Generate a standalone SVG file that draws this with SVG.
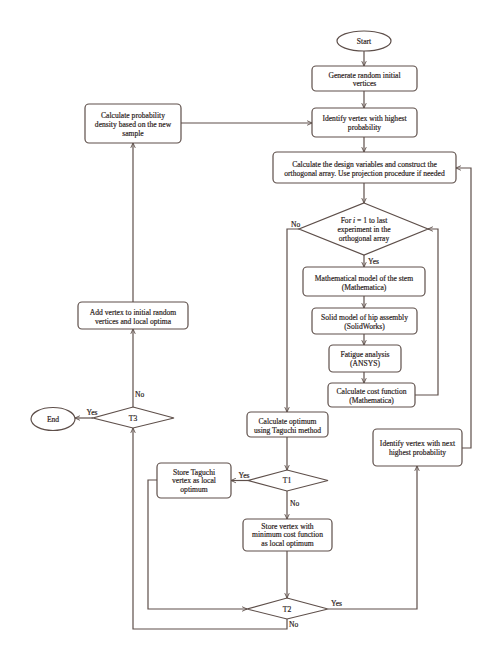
<svg xmlns="http://www.w3.org/2000/svg" width="502" height="660" viewBox="0 0 502 660">
<defs>
<style>
.n{fill:#fff;stroke:#5e4f4a;stroke-width:1.2}
.c{fill:none;stroke:#5e4f4a;stroke-width:1.2}
text{font-family:"Liberation Serif","Times New Roman",serif;font-size:7.6px;fill:#2b2220;stroke:#2b2220;stroke-width:0.18;text-anchor:middle}
.l{text-anchor:start}
</style>
<marker id="a" viewBox="0 0 8 8" refX="7.5" refY="4" markerWidth="6" markerHeight="6" orient="auto" markerUnits="userSpaceOnUse">
<path d="M1,1 L7.5,4 L1,7" fill="none" stroke="#5e4f4a" stroke-width="1.2"/>
</marker>
</defs>
<rect width="502" height="660" fill="#fff"/>
<g id="connectors" marker-end="url(#a)">
<path class="c" d="M364,51V66"/>
<path class="c" d="M364,91V108"/>
<path class="c" d="M364,137V152"/>
<path class="c" d="M364,183V203"/>
<path class="c" d="M364,255V267"/>
<path class="c" d="M364,296V308"/>
<path class="c" d="M364,334V345"/>
<path class="c" d="M364,372V383"/>
<path class="c" d="M415,395H438V229H428"/>
<path class="c" d="M299,229H287V412"/>
<path class="c" d="M287,437V470"/>
<path class="c" d="M248,480.5H231"/>
<path class="c" d="M287,491V519"/>
<path class="c" d="M287,551V598"/>
<path class="c" d="M157,480H148V609H247"/>
<path class="c" d="M328,609H417V466"/>
<path class="c" d="M462,448H471V168H456"/>
<path class="c" d="M287,619V629H133V428"/>
<path class="c" d="M133,407V329"/>
<path class="c" d="M93,418H75"/>
<path class="c" d="M133,302V143"/>
<path class="c" d="M181,123H312"/>
</g>
<g id="labels">
<text class="l" x="291" y="226.5">No</text>
<text class="l" x="368" y="263.5">Yes</text>
<text x="244" y="477.5">Yes</text>
<text class="l" x="290" y="505.5">No</text>
<text class="l" x="331" y="606">Yes</text>
<text class="l" x="289" y="626.5">No</text>
<text class="l" x="135" y="396.5">No</text>
<text x="92" y="414.5">Yes</text>
</g>
<g id="start"><ellipse class="n" cx="364" cy="41" rx="27" ry="10"/><text x="364" y="43.5">Start</text></g>
<g id="generate"><rect class="n" x="312" y="66" width="105" height="25" rx="4"/><text x="364.5" y="77.5">Generate random initial</text><text x="364.5" y="86">vertices</text></g>
<g id="identify"><rect class="n" x="312" y="108" width="105" height="29" rx="4"/><text x="364.5" y="120.5">Identify vertex with highest</text><text x="364.5" y="130">probability</text></g>
<g id="calcprob"><rect class="n" x="85" y="104" width="96" height="39" rx="4"/><text x="133" y="117.5">Calculate probability</text><text x="133" y="126.5">density based on the new</text><text x="133" y="135.5">sample</text></g>
<g id="calcdesign"><rect class="n" x="273" y="152" width="183" height="31" rx="4"/><text x="364.5" y="166.5">Calculate the design variables and construct the</text><text x="364.5" y="175.5">orthogonal array. Use projection procedure if needed</text></g>
<g id="fori"><path class="n" d="M364,203L428,229L364,255L299,229Z"/><text x="364" y="222.5">For <tspan font-style="italic">i</tspan> = 1 to last</text><text x="364" y="231.5">experiment in the</text><text x="364" y="240.5">orthogonal array</text></g>
<g id="mathmodel"><rect class="n" x="303" y="267" width="122" height="29" rx="4"/><text x="364" y="280.5">Mathematical model of the stem</text><text x="364" y="289.5">(Mathematica)</text></g>
<g id="solid"><rect class="n" x="312" y="308" width="105" height="26" rx="4"/><text x="364.5" y="319.5">Solid model of hip assembly</text><text x="364.5" y="328.5">(SolidWorks)</text></g>
<g id="fatigue"><rect class="n" x="329" y="345" width="72" height="27" rx="4"/><text x="365" y="356.5">Fatigue analysis</text><text x="365" y="365.5">(ANSYS)</text></g>
<g id="cost"><rect class="n" x="328" y="383" width="87" height="24" rx="4"/><text x="371.5" y="393.5">Calculate cost function</text><text x="371.5" y="402.5">(Mathematica)</text></g>
<g id="calcopt"><rect class="n" x="247" y="412" width="81" height="25" rx="4"/><text x="287.5" y="423.5">Calculate optimum</text><text x="287.5" y="432.5">using Taguchi method</text></g>
<g id="identnext"><rect class="n" x="373" y="429" width="89" height="37" rx="4"/><text x="417.5" y="445.5">Identify vertex with next</text><text x="417.5" y="454.5">highest probability</text></g>
<g id="t1"><path class="n" d="M287,470L328,480.5L287,491L248,480.5Z"/><text x="287" y="483">T1</text></g>
<g id="taguchi"><rect class="n" x="157" y="463" width="74" height="35" rx="4"/><text x="194" y="474.5">Store Taguchi</text><text x="194" y="483">vertex as local</text><text x="194" y="492">optimum</text></g>
<g id="storemin"><rect class="n" x="243" y="519" width="89" height="32" rx="4"/><text x="287.5" y="528.5">Store vertex with</text><text x="287.5" y="537">minimum cost function</text><text x="287.5" y="545.5">as local optimum</text></g>
<g id="t2"><path class="n" d="M287,598L328,609L287,619L247,609Z"/><text x="287" y="611.5">T2</text></g>
<g id="addvertex"><rect class="n" x="78" y="302" width="110" height="27" rx="4"/><text x="133" y="314.5">Add vertex to initial random</text><text x="133" y="323.5">vertices and local optima</text></g>
<g id="t3"><path class="n" d="M133,407L174,418L133,428L93,418Z"/><text x="133" y="420.5">T3</text></g>
<g id="end"><ellipse class="n" cx="53" cy="419" rx="22" ry="11.5"/><text x="53" y="421.5">End</text></g>
</svg>
